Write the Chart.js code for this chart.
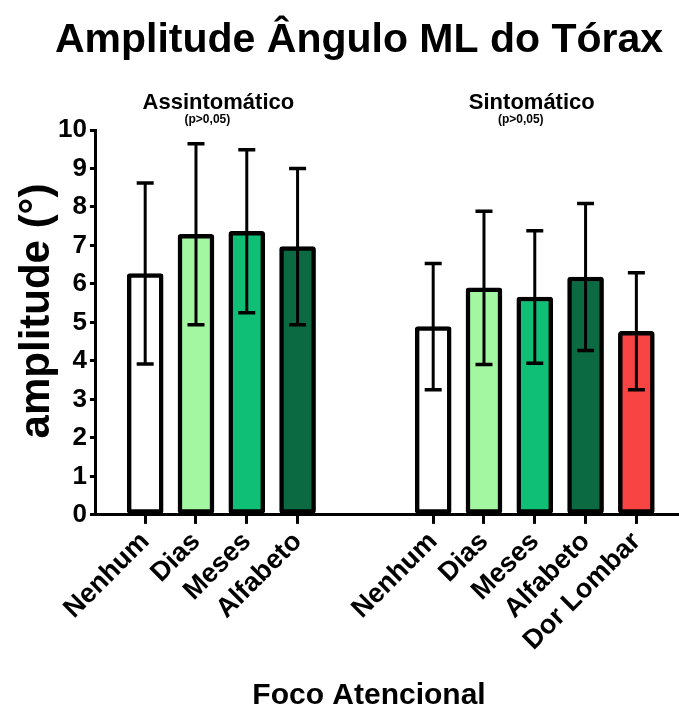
<!DOCTYPE html>
<html><head><meta charset="utf-8">
<script src="https://cdn.jsdelivr.net/npm/chart.js@4/dist/chart.umd.min.js"></script>
<style>html,body{margin:0;padding:0;background:#fff}#wrap{width:679px;height:712px;position:relative}</style>
</head><body><div id="wrap"><canvas id="c"></canvas></div>
<script>
// ---- data ----
const mainTitle = 'Amplitude Ângulo ML do Tórax';
const xTitle = 'Foco Atencional';
const yTitle = 'amplitude (°)';
const groupTitles = ['Assintomático', 'Sintomático'];
const groupNote = '(p>0,05)';
const asymLabels = ['Nenhum', 'Dias', 'Meses', 'Alfabeto'];
const asymMean = [6.27, 7.29, 7.37, 6.97];
const asymSD = [2.35, 2.35, 2.12, 2.03];
const sympLabels = ['Nenhum', 'Dias', 'Meses', 'Alfabeto', 'Dor Lombar'];
const sympMean = [4.89, 5.90, 5.66, 6.18, 4.77];
const sympSD = [1.64, 1.99, 1.72, 1.91, 1.52];
const yTicks = [0, 1, 2, 3, 4, 5, 6, 7, 8, 9, 10];
const asymColors = ['#ffffff', '#a2f7a0', '#10bf76', '#0b6a42'];
const sympColors = ['#ffffff', '#a2f7a0', '#10bf76', '#0b6a42', '#f94444'];

// ---- layout constants ----
const FONT = "'Liberation Sans', Arial, sans-serif";
const GROUP_GAP = 2.67; // space between groups in slot units

const positions = [];
asymLabels.forEach((_, i) => positions.push(i));
sympLabels.forEach((_, i) => positions.push(asymLabels.length - 1 + GROUP_GAP + i));
const labels = asymLabels.concat(sympLabels);
const means = asymMean.concat(sympMean);
const sds = asymSD.concat(sympSD);
const colors = asymColors.concat(sympColors);
const groups = [
  {title: groupTitles[0], from: 0, to: asymLabels.length - 1},
  {title: groupTitles[1], from: asymLabels.length, to: labels.length - 1}
];

const errorBars = {
  id: 'errorBars',
  afterDatasetsDraw(chart) {
    const ctx = chart.ctx, y = chart.scales.y;
    const meta = chart.getDatasetMeta(0);
    ctx.save();
    ctx.strokeStyle = '#000';
    meta.data.forEach((bar, i) => {
      const top = y.getPixelForValue(means[i] + sds[i]);
      const bot = y.getPixelForValue(means[i] - sds[i]);
      ctx.lineWidth = 3;
      ctx.beginPath(); ctx.moveTo(bar.x, top); ctx.lineTo(bar.x, bot); ctx.stroke();
      ctx.lineWidth = 3.5;
      ctx.beginPath();
      ctx.moveTo(bar.x - 8.5, top); ctx.lineTo(bar.x + 8.5, top);
      ctx.moveTo(bar.x - 8.5, bot); ctx.lineTo(bar.x + 8.5, bot);
      ctx.stroke();
    });
    ctx.restore();
  }
};

const annotations = {
  id: 'annotations',
  afterDraw(chart) {
    const ctx = chart.ctx, x = chart.scales.x;
    ctx.save();
    ctx.fillStyle = '#000';
    ctx.textAlign = 'center';
    ctx.textBaseline = 'alphabetic';
    ctx.font = 'bold 41px ' + FONT;
    ctx.fillText(mainTitle, 359, 52);
    groups.forEach(g => {
      const cx = (x.getPixelForValue(positions[g.from]) + x.getPixelForValue(positions[g.to])) / 2;
      ctx.font = 'bold 22px ' + FONT;
      ctx.fillText(g.title, cx - 3, 109);
      ctx.font = 'bold 12px ' + FONT;
      ctx.fillText(groupNote, cx - 14, 123);
    });
    ctx.font = 'bold 30px ' + FONT;
    ctx.fillText(xTitle, 369, 704);
    // y axis title
    ctx.translate(37, 311);
    ctx.rotate(-Math.PI / 2);
    ctx.textBaseline = 'middle';
    ctx.font = 'bold 42px ' + FONT;
    ctx.fillText(yTitle, 0, 0);
    ctx.restore();
  }
};

new Chart(document.getElementById('c'), {
  type: 'bar',
  data: {
    datasets: [{
      data: positions.map((p, i) => ({x: p, y: means[i]})),
      backgroundColor: colors,
      borderColor: '#000',
      borderWidth: 4.5,
      borderRadius: 3,
      borderSkipped: false,
      barThickness: 36
    }]
  },
  options: {
    responsive: true,
    maintainAspectRatio: false,
    devicePixelRatio: 1,
    animation: false,
    layout: {padding: {top: 130, right: 2, bottom: 53, left: 55}},
    plugins: {legend: {display: false}, tooltip: {enabled: false}, title: {display: false}},
    scales: {
      x: {
        type: 'linear',
        offset: false,
        min: -0.97,
        max: positions[positions.length - 1] + 0.8,
        afterBuildTicks: axis => { axis.ticks = positions.map(v => ({value: v})); },
        ticks: {
          autoSkip: false,
          minRotation: 45,
          maxRotation: 45,
          color: '#000',
          padding: 2,
          font: {family: FONT, size: 27, weight: 'bold'},
          callback: (v, i) => labels[i]
        },
        grid: {offset: false, drawOnChartArea: false, drawTicks: true, tickLength: 9, color: '#000', lineWidth: 3},
        border: {color: '#000', width: 3}
      },
      y: {
        min: 0,
        max: 10,
        afterBuildTicks: axis => { axis.ticks = yTicks.map(v => ({value: v})); },
        ticks: {
          color: '#000',
          padding: 3,
          font: {family: FONT, size: 26, weight: 'bold'}
        },
        grid: {drawOnChartArea: false, drawTicks: true, tickLength: 6, color: '#000', lineWidth: 3},
        border: {color: '#000', width: 3}
      }
    }
  },
  plugins: [errorBars, annotations]
});
</script>
</body></html>
